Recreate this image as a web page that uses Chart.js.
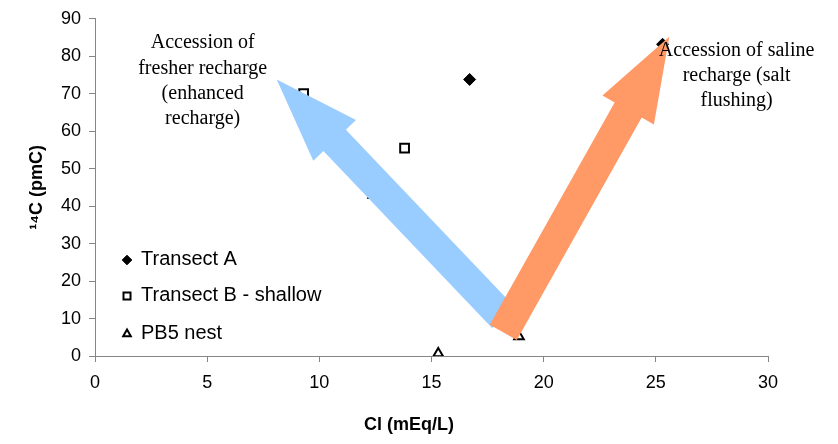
<!DOCTYPE html>
<html>
<head>
    <title>14C vs Cl</title>
    <script src="https://cdn.jsdelivr.net/npm/chart.js@4.4.0/dist/chart.umd.min.js"></script>
    <style>
        body { margin: 0; padding: 0; background: #fff; }
        .chart-box { width: 838px; height: 444px; }
    </style>
</head>
<body>
    <div class="chart-box"><canvas id="c14Chart"></canvas></div>

    <script>
        // Data (Cl in mEq/L, 14C in pmC)
        const transectA_cl = [16.7, 25.3];
        const transectA_c14 = [73.8, 83.2];
        const transectB_cl = [9.3, 13.8];
        const transectB_c14 = [70.0, 55.5];
        const pb5_cl = [12.4, 15.3, 18.9];
        const pb5_c14 = [43.0, 0.7, 5.2];

        const seriesNames = ['Transect A', 'Transect B - shallow', 'PB5 nest'];

        // Arrow annotations in data units: [tail, tip]
        const freshArrow = [[18.2, 10.3], [8.1, 73.8]];
        const salineArrow = [[18.2, 6.3], [25.6, 85.2]];
        const freshLabel = ['Accession of', 'fresher recharge', '(enhanced', 'recharge)'];
        const freshLabelAt = [4.8, 83.5];
        const salineLabel = ['Accession of saline', 'recharge (salt', 'flushing)'];
        const salineLabelAt = [28.6, 81.5];
        const xTitle = 'Cl (mEq/L)';
        const xTitleAt = 14.0;

        const toPoints = (xs, ys) => xs.map((x, i) => ({ x: x, y: ys[i] }));

        function drawArrow(ctx, x0, y0, x1, y1, color) {
            const dx = x1 - x0, dy = y1 - y0;
            const len = Math.hypot(dx, dy);
            const ux = dx / len, uy = dy / len;
            const nx = -uy, ny = ux;
            const hw = 15.5, HW = 29.5, headLen = 84;
            const bx = x1 - ux * headLen, by = y1 - uy * headLen;
            ctx.beginPath();
            ctx.moveTo(x0 + nx * hw, y0 + ny * hw);
            ctx.lineTo(bx + nx * hw, by + ny * hw);
            ctx.lineTo(bx + nx * HW, by + ny * HW);
            ctx.lineTo(x1, y1);
            ctx.lineTo(bx - nx * HW, by - ny * HW);
            ctx.lineTo(bx - nx * hw, by - ny * hw);
            ctx.lineTo(x0 - nx * hw, y0 - ny * hw);
            ctx.closePath();
            ctx.fillStyle = color;
            ctx.fill();
        }

        const annotations = {
            id: 'annotations',
            afterDatasetsDraw(chart) {
                const { ctx, scales: { x, y } } = chart;
                ctx.save();
                drawArrow(ctx, x.getPixelForValue(freshArrow[0][0]), y.getPixelForValue(freshArrow[0][1]),
                    x.getPixelForValue(freshArrow[1][0]), y.getPixelForValue(freshArrow[1][1]), '#99CCFF');
                drawArrow(ctx, x.getPixelForValue(salineArrow[0][0]), y.getPixelForValue(salineArrow[0][1]),
                    x.getPixelForValue(salineArrow[1][0]), y.getPixelForValue(salineArrow[1][1]), '#FF9966');

                ctx.fillStyle = '#000';
                ctx.font = '20px "Liberation Serif", "Times New Roman", serif';
                ctx.textAlign = 'center';
                ctx.textBaseline = 'middle';
                const lh = 25.3;
                let cx = x.getPixelForValue(freshLabelAt[0]), cy = y.getPixelForValue(freshLabelAt[1]);
                freshLabel.forEach((t, i) => ctx.fillText(t, cx, cy + i * lh));
                cx = x.getPixelForValue(salineLabelAt[0]); cy = y.getPixelForValue(salineLabelAt[1]);
                salineLabel.forEach((t, i) => ctx.fillText(t, cx, cy + i * lh));

                // x axis title, set left of centre as in the original
                ctx.font = 'bold 18px "Liberation Sans", Arial, sans-serif';
                ctx.fillText(xTitle, x.getPixelForValue(xTitleAt), 425);

                // legend inside the plot area
                ctx.font = '20px "Liberation Sans", Arial, sans-serif';
                ctx.textAlign = 'left';
                const lx = x.left + 32, ly = [259, 295, 333];
                chart.data.datasets.forEach((ds, i) => {
                    ctx.fillStyle = ds.backgroundColor;
                    ctx.strokeStyle = ds.borderColor;
                    ctx.lineWidth = ds.borderWidth;
                    Chart.helpers.drawPoint(ctx, {
                        pointStyle: ds.pointStyle,
                        radius: ds.pointRadius * 0.8,
                        rotation: 0,
                        borderWidth: ds.borderWidth
                    }, lx, ly[i] + 1);
                    ctx.fillStyle = '#000';
                    ctx.fillText(ds.label, lx + 14, ly[i]);
                });
                ctx.restore();
            }
        };

        try {
            new Chart(document.getElementById('c14Chart'), {
                type: 'scatter',
                data: {
                    datasets: [
                        {
                            label: seriesNames[0],
                            data: toPoints(transectA_cl, transectA_c14),
                            pointStyle: 'rectRot',
                            pointRadius: 6,
                            backgroundColor: '#000',
                            borderColor: '#000',
                            borderWidth: 1
                        },
                        {
                            label: seriesNames[1],
                            data: toPoints(transectB_cl, transectB_c14),
                            pointStyle: 'rect',
                            pointRadius: 6.2,
                            backgroundColor: '#fff',
                            borderColor: '#000',
                            borderWidth: 2
                        },
                        {
                            label: seriesNames[2],
                            data: toPoints(pb5_cl, pb5_c14),
                            pointStyle: 'triangle',
                            pointRadius: 5.5,
                            backgroundColor: '#fff',
                            borderColor: '#000',
                            borderWidth: 2
                        }
                    ]
                },
                options: {
                    responsive: true,
                    maintainAspectRatio: false,
                    animation: false,
                    layout: { padding: { top: 16, right: 70, bottom: 0, left: 0 } },
                    scales: {
                        x: {
                            type: 'linear',
                            min: 0, max: 30,
                            ticks: { stepSize: 5, color: '#000', padding: 10, font: { family: '"Liberation Sans", Arial', size: 18 } },
                            grid: { drawOnChartArea: false, tickLength: 6, color: '#868686' },
                            border: { color: '#868686' },
                            title: { display: false },
                            afterFit: s => { s.height = 88; }
                        },
                        y: {
                            min: 0, max: 90,
                            ticks: { stepSize: 10, color: '#000', padding: 8, font: { family: '"Liberation Sans", Arial', size: 18 } },
                            grid: { drawOnChartArea: false, tickLength: 6, color: '#868686' },
                            border: { color: '#868686' },
                            title: { display: true, text: '\u00B9\u2074C (pmC)', color: '#000', padding: { top: 26 },
                                     font: { family: '"Liberation Sans", Arial', size: 18, weight: 'bold' } },
                            afterFit: s => { s.width = 95; }
                        }
                    },
                    plugins: {
                        legend: { display: false },
                        tooltip: { enabled: false }
                    }
                },
                plugins: [annotations]
            });
        } catch (error) {
            console.error('Error rendering chart:', error);
        }
    </script>
</body>
</html>
